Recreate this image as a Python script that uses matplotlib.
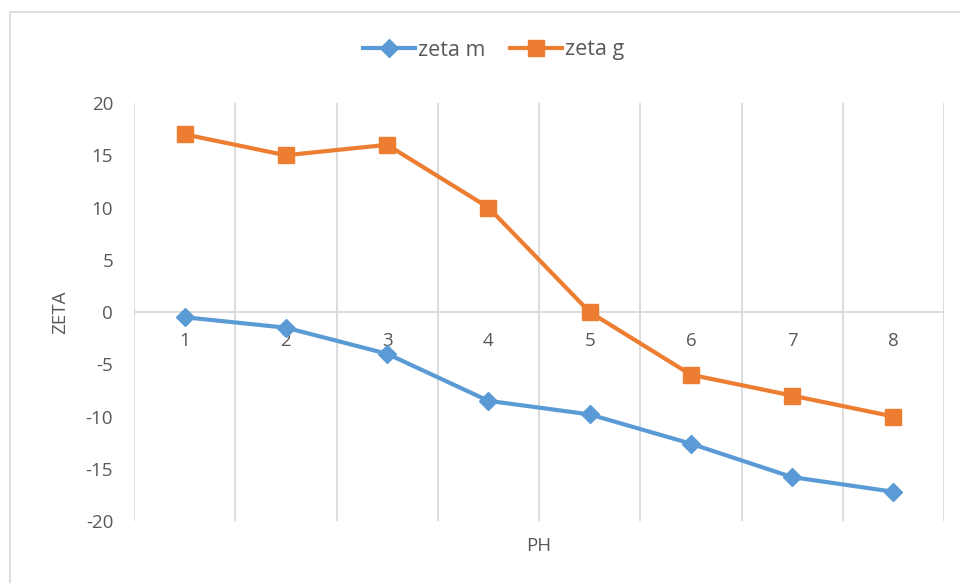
import numpy as np
import matplotlib.pyplot as plt
from matplotlib.patches import Rectangle

ph = [1, 2, 3, 4, 5, 6, 7, 8]
zeta_m = [-0.5, -1.5, -4.0, -8.5, -9.8, -12.6, -15.8, -17.2]
zeta_g = [17, 15, 16, 10, 0, -6, -8, -10]

plt.rcParams['font.family'] = ['Open Sans', 'DejaVu Sans']
plt.rcParams['axes.unicode_minus'] = False
grey = '#595959'
grid = '#d9d9d9'
fs = 13.5

fig = plt.figure(figsize=(9.6, 5.83), dpi=100)
# outer chart frame
fig.patches.append(Rectangle((10/960, -0.05), 1.1, 0.05 + (583-12)/583,
                             transform=fig.transFigure, fill=False,
                             edgecolor=grid, linewidth=1.2))
ax = fig.add_axes([134/960, 1-521/583, 810/960, 418/583])

ax.plot(ph, zeta_m, color='#5b9bd5', lw=3, marker='D', ms=9.5, label='zeta m', zorder=3)
ax.plot(ph, zeta_g, color='#ed7d31', lw=3, marker='s', ms=11, label='zeta g', zorder=3)

ax.set_xlim(0.5, 8.5)
ax.set_ylim(-20, 20)
ax.set_yticks(np.arange(-20, 21, 5))
ax.set_xticks(ph)
ax.set_xticks(np.arange(0.5, 8.6, 1), minor=True)
ax.grid(True, which='minor', axis='x', color=grid, lw=1.3)
ax.axhline(0, color=grid, lw=1.3, zorder=1)
for s in ax.spines.values():
    s.set_visible(False)
ax.tick_params(axis='both', which='both', length=0, colors=grey, labelsize=fs)
ax.tick_params(axis='y', pad=15)
# category labels sit just under the zero line
ax.set_xticklabels([])
for x in ph:
    ax.text(x, -2.75, str(x), ha='center', va='center', color=grey, fontsize=fs, zorder=2)

ax.set_ylabel('ZETA', color=grey, fontsize=fs, labelpad=12)
ax.set_xlabel('PH', color=grey, fontsize=fs, labelpad=8)
ax.legend(loc='center', bbox_to_anchor=(494/960, 1 - 50/583), bbox_transform=fig.transFigure,
          ncol=2, frameon=False, fontsize=15.5, labelcolor=grey,
          handlelength=2.4, handletextpad=0.15, columnspacing=1.15)

fig.savefig('out.png', dpi=100)
